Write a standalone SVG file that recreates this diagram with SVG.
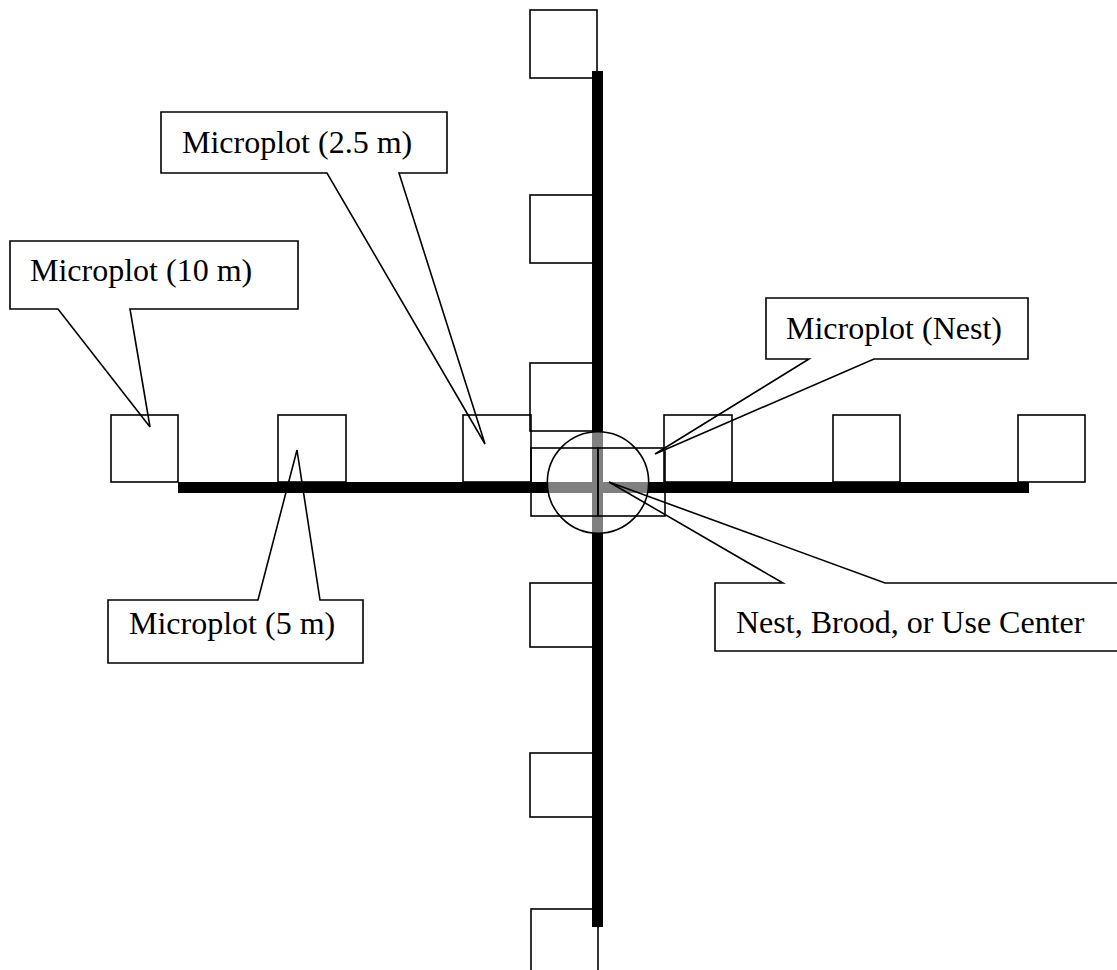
<svg xmlns="http://www.w3.org/2000/svg" width="1117" height="970" viewBox="0 0 1117 970">
<style>
.sq{fill:none;stroke:#000;stroke-width:1.6}
.bar{fill:#000}
.gray{fill:#808080}
.co{fill:none;stroke:#000;stroke-width:1.6;stroke-linejoin:miter}
.lbl{font-family:"Liberation Serif","Times New Roman",serif;font-size:32px;fill:#000}
</style>
<defs>
<clipPath id="circ"><circle cx="598" cy="482.5" r="50.7"/></clipPath>
</defs>
<rect width="1117" height="970" fill="#fff"/>
<g id="microplots">
<rect class="sq" x="111" y="415" width="67" height="67"/>
<rect class="sq" x="278" y="415" width="68" height="67"/>
<rect class="sq" x="463" y="415" width="68" height="67"/>
<rect class="sq" x="664" y="415" width="68" height="67"/>
<rect class="sq" x="833" y="415" width="67" height="67"/>
<rect class="sq" x="1018" y="415" width="67" height="67"/>
<rect class="sq" x="530" y="10" width="67" height="68"/>
<rect class="sq" x="530" y="195" width="67" height="68"/>
<rect class="sq" x="530" y="363" width="67" height="68"/>
<rect class="sq" x="530" y="583" width="67" height="64"/>
<rect class="sq" x="530" y="753" width="67" height="64"/>
<rect class="sq" x="531" y="909" width="67" height="80"/>
</g>
<g id="transects">
<rect class="bar" x="178" y="482" width="851" height="11"/>
<rect class="bar" x="592" y="71" width="11" height="856"/>
</g>
<g id="center" >
<g clip-path="url(#circ)">
<rect class="gray" x="540" y="482" width="120" height="11"/>
<rect class="gray" x="592" y="425" width="11" height="115"/>
</g>
<rect class="sq" x="531" y="448" width="67" height="68"/>
<rect class="sq" x="598" y="448" width="67" height="68"/>
<circle cx="598" cy="482.5" r="50.7" fill="none" stroke="#000" stroke-width="1.6"/>
</g>
<g id="connectors">
<path class="co" d="M10,241 H298 V309 H130 L150,427 L58,309 H10 Z"/>
<path class="co" d="M161,112 H447 V173 H399 L485,444 L327,173 H161 Z"/>
<path class="co" d="M766,298 H1028 V359 H874 L655,454 L809,359 H766 Z"/>
<path class="co" d="M108,600 H258 L297,450 L320,600 H363 V663 H108 Z"/>
<path class="co" d="M715,583 H783 L609,482 L885,583 H1130 V651 H715 Z"/>
</g>
<g id="labels">
<text class="lbl" x="30" y="281">Microplot (10 m)</text>
<text class="lbl" x="182" y="153">Microplot (2.5 m)</text>
<text class="lbl" x="786" y="339">Microplot (Nest)</text>
<text class="lbl" x="129" y="634">Microplot (5 m)</text>
<text class="lbl" x="736" y="633">Nest, Brood, or Use Center</text>
</g>
</svg>
